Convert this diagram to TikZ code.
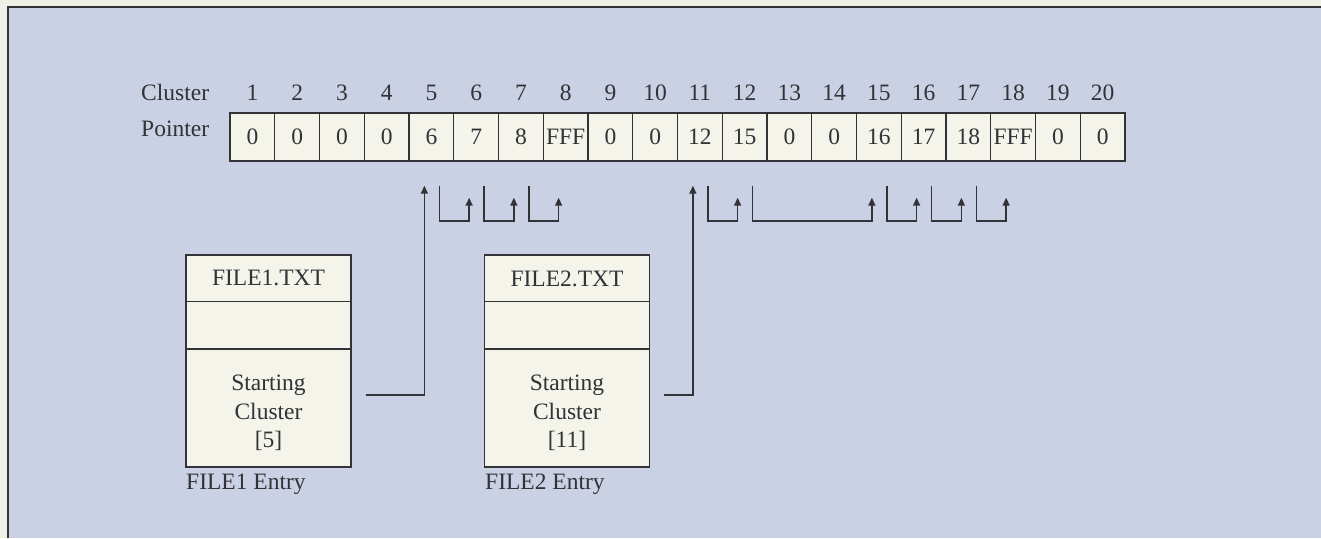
\documentclass[tikz,border=0pt]{standalone}
\usepackage{fontspec}
\setmainfont{Liberation Serif}
\usetikzlibrary{arrows.meta,calc}
\definecolor{bgblue}{RGB}{202,209,228}
\definecolor{margincol}{RGB}{240,239,230}
\definecolor{cellfill}{RGB}{244,244,234}
\definecolor{ink}{RGB}{50,50,55}
\begin{document}
\begin{tikzpicture}[x=1pt,y=-1pt,
  font=\fontsize{23.5}{28.5}\selectfont,
  every node/.style={text=ink},
  cellbox/.style={draw=ink, fill=cellfill, line width=1.4pt, minimum width=44.75pt,
    minimum height=48pt, inner sep=0pt, text height=15pt, text depth=0pt},
  numlab/.style={inner sep=0pt, text height=15pt, text depth=0pt},
  lab/.style={inner sep=0pt},
  filebox/.style={draw=ink, fill=cellfill, line width=1.4pt, minimum width=165pt,
    inner sep=0pt, align=center, font=\fontsize{23.5}{28.5}\selectfont},
  starttext/.style={text=ink, align=center, inner sep=0pt, yshift=-5pt,
    font=\fontsize{23.5}{28.5}\selectfont},
  conn/.style={draw=ink, line width=1.6pt, -{Triangle[length=8pt,width=7pt]}},
  frameline/.style={draw=ink, line width=1.2pt}
]
\useasboundingbox (0,0) rectangle (1321,538);
\fill[margincol] (0,0) rectangle (1321,538);
\fill[bgblue] (8,7) rectangle (1321,538);
\draw[frameline] (8,538) -- (8,7) -- (1321,7);

% labels
\node[lab, anchor=base west] (clab) at (141,100.7) {Cluster};
\node[lab, anchor=base west] (plab) at (141,136.7) {Pointer};

% FAT cells
\foreach \v [count=\i] in {0,0,0,0,6,7,8,FFF,0,0,12,15,0,0,16,17,18,FFF,0,0} {
  \node[cellbox] (c\i) at ({230+(\i-0.5)*44.75},137) {\v};
  \node[numlab] (n\i) at ({230+(\i-0.5)*44.75},93) {\i};
}

% directory entries
\node[filebox, minimum height=46.7pt] (f1a) at (268.5,278.4) {FILE1.TXT};
\node[filebox, minimum height=47.3pt] (f1b) at (268.5,325.4) {};
\node[filebox, minimum height=118pt,
  label={[starttext]center:Starting\\Cluster\\{[5]}}] (f1c) at (268.5,408) {};
\node[lab, anchor=base west] (f1l) at (186,489) {FILE1 Entry};

\node[filebox, minimum height=46.7pt] (f2a) at (567,278.4) {FILE2.TXT};
\node[filebox, minimum height=47.3pt] (f2b) at (567,325.4) {};
\node[filebox, minimum height=118pt,
  label={[starttext]center:Starting\\Cluster\\{[11]}}] (f2c) at (567,408) {};
\node[lab, anchor=base west] (f2l) at (485,489) {FILE2 Entry};

% starting cluster pointers
\draw[conn] ($(f1c.east)+(14,-13)$) -| ($(c5.south)+(-7,24)$);
\draw[conn] ($(f2c.east)+(14,-13)$) -| ($(c11.south)+(-7,24)$);

% chain hooks
\foreach \a/\b in {5/6,6/7,7/8,11/12,12/15,15/16,16/17,17/18} {
  \draw[conn] ($(c\a.south)+(8,24)$) |- ($(c\b.south)+(-7,59)$) -- ($(c\b.south)+(-7,36)$);
}
\end{tikzpicture}
\end{document}
